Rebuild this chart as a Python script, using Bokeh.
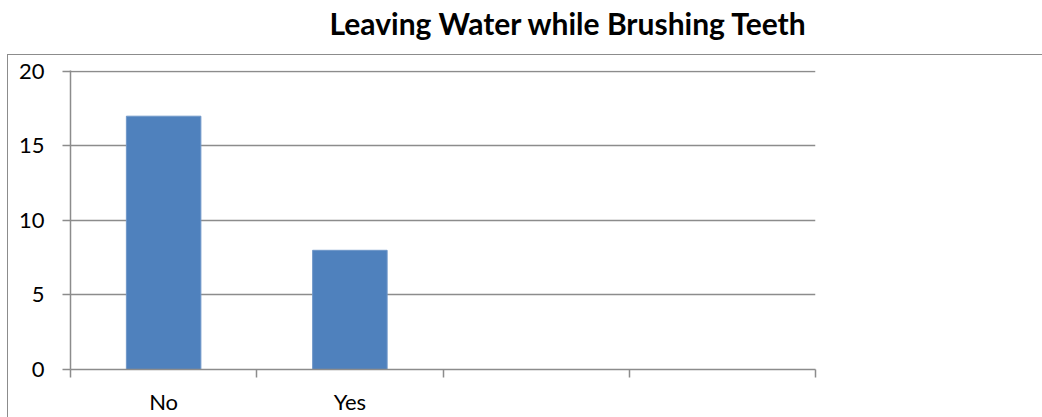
from bokeh.plotting import figure
from bokeh.models import Range1d, FixedTicker, InlineStyleSheet, Title
from bokeh.embed import file_html
from bokeh.resources import INLINE

# Survey answers
title_text = "Leaving Water while Brushing Teeth"
categories = ["No", "Yes"]
counts = [17, 8]
n_slots = 4                      # category slots shown on the axis
y_ticks = [0, 5, 10, 15, 20]

GRID = "#8c8c8c"
BAR = "#4F81BD"
FONT = "Lato"

W, H = 1042, 417
FRAME_L, FRAME_R, FRAME_T, FRAME_B = 70, 815, 70, 370

# chart-area border drawn around the figure with CSS
border_css = InlineStyleSheet(css="""
:host { position: relative; }
:host::after {
  content: ""; position: absolute; pointer-events: none;
  left: 7px; top: 54px; right: -6px; bottom: -6px;
  border: 1.5px solid #8c8c8c;
}
""")

p = figure(width=W, height=H, output_backend="svg", toolbar_location=None,
           x_range=Range1d(0, n_slots), y_range=Range1d(0, 20.067),
           min_border_left=FRAME_L, min_border_right=W - FRAME_R,
           min_border_top=FRAME_T, min_border_bottom=H - FRAME_B,
           stylesheets=[border_css])
p.outline_line_color = None
p.background_fill_color = "white"
p.border_fill_color = "white"
p.title.text = ""

# a thin spacer panel between the frame and the title lifts the title up
p.add_layout(Title(text=" ", text_font_size="1px", standoff=27), "above")
p.add_layout(Title(text=title_text, align="left", offset=259,
                   vertical_align="bottom", standoff=0,
                   text_font=FONT, text_font_style="bold",
                   text_font_size="30px", text_color="black"), "above")

centers = [i + 0.5 for i in range(len(categories))]
p.vbar(x=centers, top=counts, width=0.4, bottom=0,
       fill_color=BAR, line_color="#6f97c9", line_width=1)

# y axis
ya = p.yaxis[0]
ya.ticker = FixedTicker(ticks=y_ticks, minor_ticks=[])
ya.axis_line_color = GRID
ya.axis_line_width = 1.5
ya.major_tick_line_color = GRID
ya.major_tick_line_width = 1.5
ya.major_tick_out = 8
ya.major_tick_in = 0
ya.minor_tick_line_color = None
ya.major_label_standoff = 18
ya.major_label_text_font = FONT
ya.major_label_text_font_size = "22px"
ya.major_label_text_color = "black"

# x axis: labels at slot centres, tick marks at slot boundaries
xa = p.xaxis[0]
slot_labels = categories + [""] * (n_slots - len(categories))
xa.ticker = FixedTicker(ticks=[i + 0.5 for i in range(n_slots)],
                        minor_ticks=list(range(n_slots + 1)))
xa.major_label_overrides = {i + 0.5: lab for i, lab in enumerate(slot_labels)}
xa.axis_line_color = GRID
xa.axis_line_width = 1.5
xa.major_tick_line_color = None
xa.major_tick_out = 8
xa.major_tick_in = 0
xa.minor_tick_line_color = GRID
xa.minor_tick_line_width = 1.5
xa.minor_tick_out = 8
xa.minor_tick_in = 0
xa.major_label_standoff = 10
xa.major_label_text_font = FONT
xa.major_label_text_font_size = "22px"
xa.major_label_text_color = "black"

p.xgrid.grid_line_color = None
p.ygrid.ticker = FixedTicker(ticks=y_ticks[1:])
p.ygrid.grid_line_color = GRID
p.ygrid.grid_line_width = 1.5

open("out.html", "w").write(file_html(p, INLINE))
